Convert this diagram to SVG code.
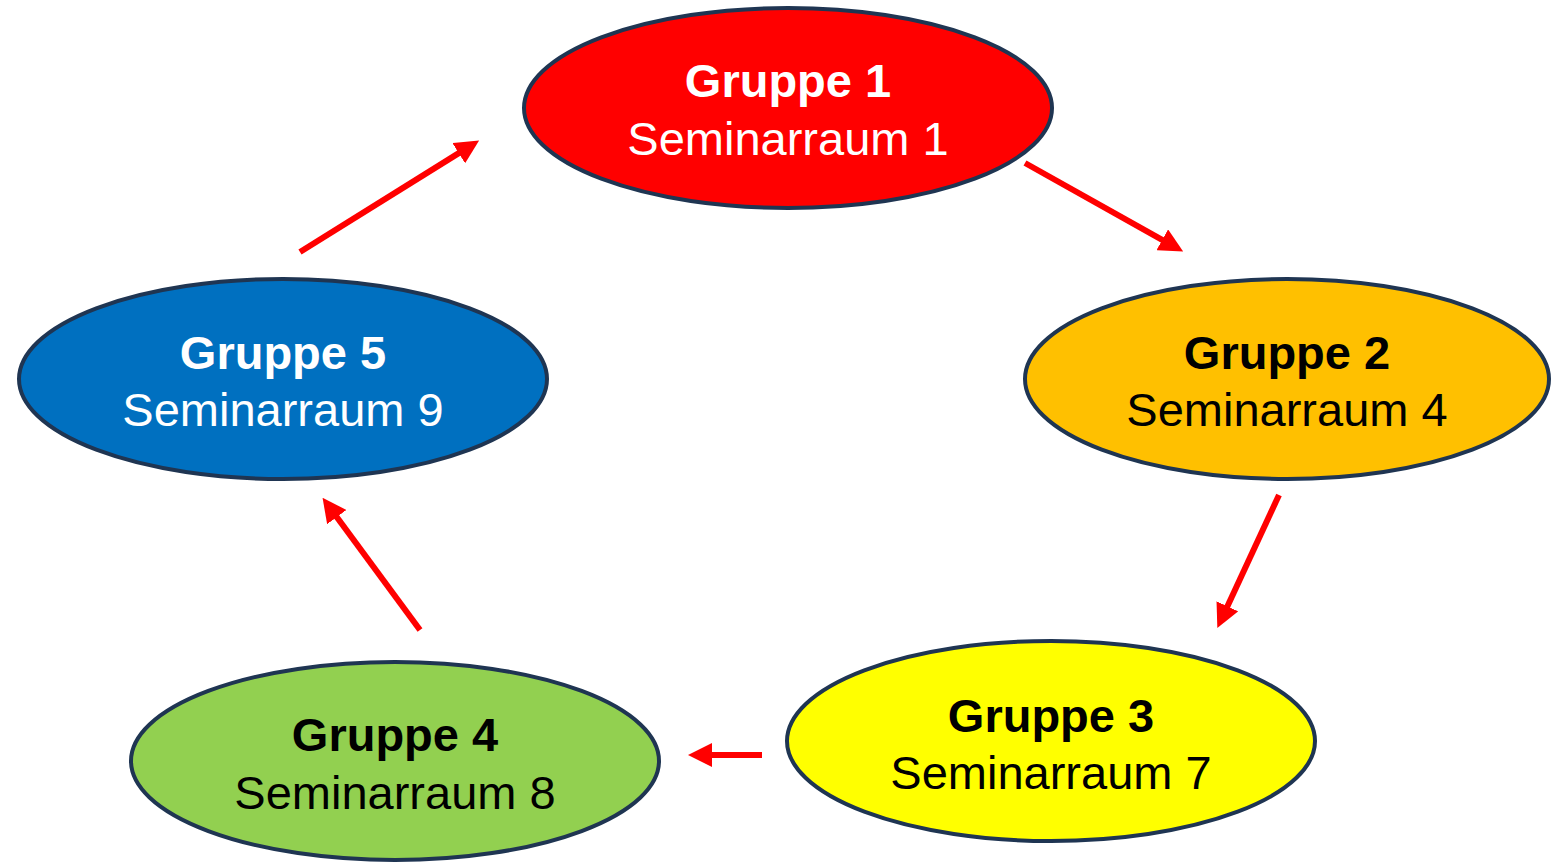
<svg xmlns="http://www.w3.org/2000/svg" width="1551" height="863" viewBox="0 0 1551 863">
<style>
.node ellipse{stroke:#1F3552;stroke-width:4}
.t1{font-family:"Liberation Sans",Arial,sans-serif;font-weight:bold;font-size:47px;text-anchor:middle}
.t2{font-family:"Liberation Sans",Arial,sans-serif;font-size:47px;text-anchor:middle}
.w{fill:#FFFFFF}.b{fill:#000000}
.conn line{stroke:#FF0000;stroke-width:6;fill:none}
</style>
<defs>
<marker id="ah" markerUnits="userSpaceOnUse" markerWidth="24" markerHeight="24" viewBox="0 0 24 24" refX="1" refY="12" orient="auto">
<path d="M0,0 L24,12 L0,24 z" fill="#FF0000"/>
</marker>
</defs>
<rect width="1551" height="863" fill="#FFFFFF"/>
<g class="conn" id="connectors">
<line x1="300" y1="252" x2="459.6" y2="152.6" marker-end="url(#ah)"/>
<line x1="1025" y1="163" x2="1163.1" y2="240.3" marker-end="url(#ah)"/>
<line x1="1279" y1="495" x2="1227" y2="607.2" marker-end="url(#ah)"/>
<line x1="762" y1="755" x2="711" y2="755" marker-end="url(#ah)"/>
<line x1="420" y1="630" x2="336.2" y2="516.3" marker-end="url(#ah)"/>
</g>
<g class="node" id="g1">
<ellipse cx="788" cy="108" rx="264" ry="100" fill="#FF0000"/>
<text class="t1 w" x="788" y="97">Gruppe 1</text>
<text class="t2 w" x="788" y="155">Seminarraum 1</text>
</g>
<g class="node" id="g2">
<ellipse cx="1287" cy="379" rx="262" ry="100" fill="#FFC000"/>
<text class="t1 b" x="1287" y="369">Gruppe 2</text>
<text class="t2 b" x="1287" y="426">Seminarraum 4</text>
</g>
<g class="node" id="g3">
<ellipse cx="1051" cy="741" rx="264" ry="100" fill="#FFFF00"/>
<text class="t1 b" x="1051" y="732">Gruppe 3</text>
<text class="t2 b" x="1051" y="789">Seminarraum 7</text>
</g>
<g class="node" id="g4">
<ellipse cx="395" cy="761" rx="264" ry="99" fill="#92D050"/>
<text class="t1 b" x="395" y="751">Gruppe 4</text>
<text class="t2 b" x="395" y="809">Seminarraum 8</text>
</g>
<g class="node" id="g5">
<ellipse cx="283" cy="379" rx="264" ry="100" fill="#0070C0"/>
<text class="t1 w" x="283" y="369">Gruppe 5</text>
<text class="t2 w" x="283" y="426">Seminarraum 9</text>
</g>
</svg>
